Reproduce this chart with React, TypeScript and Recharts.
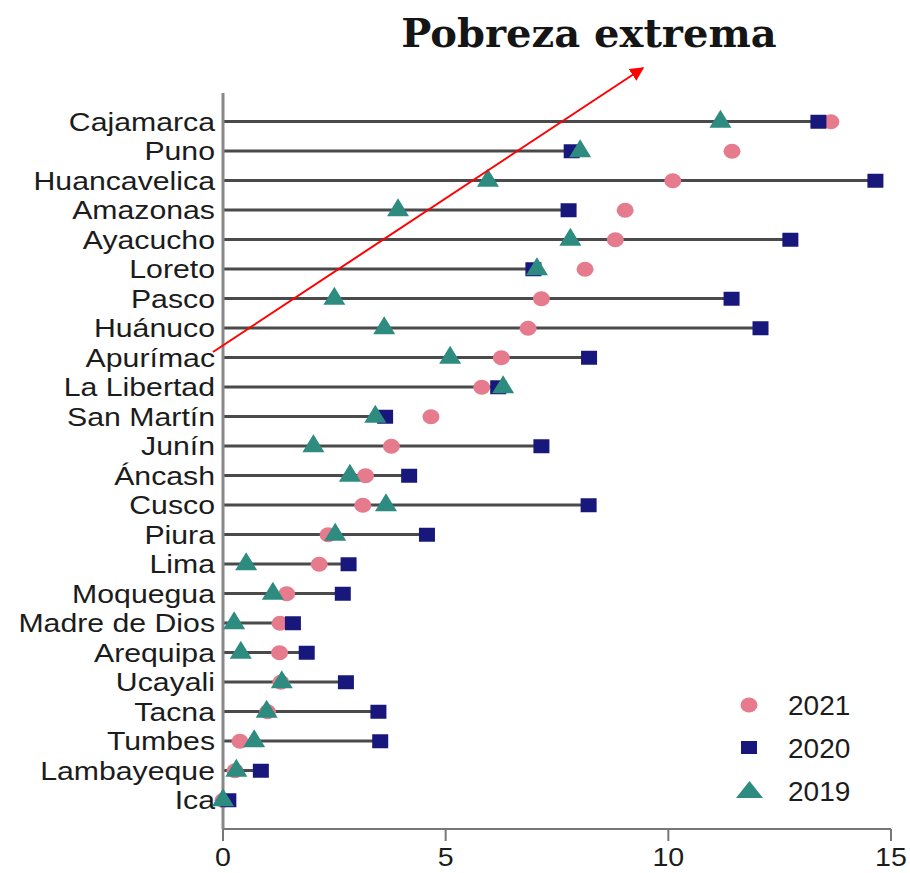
import { Bar, ComposedChart, Scatter, XAxis, YAxis } from "recharts";

const regions = [
  "Cajamarca", "Puno", "Huancavelica", "Amazonas", "Ayacucho", "Loreto", "Pasco", "Huánuco",
  "Apurímac", "La Libertad", "San Martín", "Junín", "Áncash", "Cusco", "Piura", "Lima",
  "Moquegua", "Madre de Dios", "Arequipa", "Ucayali", "Tacna", "Tumbes", "Lambayeque", "Ica",
];
const v2021 = [13.65, 11.43, 10.1, 9.03, 8.81, 8.13, 7.15, 6.85, 6.25, 5.81, 4.67, 3.78, 3.2, 3.14, 2.36, 2.16, 1.43, 1.28, 1.27, 1.3, 1.0, 0.38, 0.27, 0.0];
const v2020 = [13.37, 7.83, 14.65, 7.76, 12.74, 6.97, 11.42, 12.07, 8.22, 6.18, 3.64, 7.15, 4.18, 8.21, 4.58, 2.82, 2.69, 1.57, 1.88, 2.76, 3.49, 3.53, 0.85, 0.12];
const v2019 = [11.17, 8.02, 5.95, 3.93, 7.8, 7.05, 2.5, 3.62, 5.1, 6.29, 3.42, 2.03, 2.85, 3.66, 2.52, 0.52, 1.12, 0.25, 0.4, 1.32, 0.98, 0.7, 0.3, 0.0];
const xTicks = [0, 5, 10, 15];

const PINK = "#e57b8c";
const NAVY = "#18187c";
const TEAL = "#2d8b80";

const data = regions.map((region, i) => ({
  region,
  y2021: v2021[i],
  y2020: v2020[i],
  y2019: v2019[i],
  // the connecting line only spans the 2019/2020 values
  span: Math.max(v2020[i], v2019[i]),
}));

const Dot = (p: any) => <ellipse cx={p.cx} cy={p.cy} rx={8.5} ry={7.5} fill={PINK} />;
const Square = (p: any) => <rect x={p.cx - 8} y={p.cy - 7} width={16} height={14} fill={NAVY} />;
const Triangle = (p: any) => (
  <polygon points={`${p.cx - 11},${p.cy + 6} ${p.cx + 11},${p.cy + 6} ${p.cx},${p.cy - 12}`} fill={TEAL} />
);

const RegionTick = (p: any) => (
  <text
    transform={`translate(${p.x},${p.y}) scale(1.21,1)`}
    dy={9}
    textAnchor="end"
    fontFamily="'Liberation Sans', Arial, sans-serif"
    fontSize={25}
    fill="#1c1c1c"
  >
    {p.payload.value}
  </text>
);

const ValueTick = (p: any) => (
  <text
    transform={`translate(${p.x},${p.y}) scale(1.1,1)`}
    dy={23}
    textAnchor="middle"
    fontFamily="'Liberation Sans', Arial, sans-serif"
    fontSize={26}
    fill="#1c1c1c"
  >
    {p.payload.value}
  </text>
);

const legendItems = [
  { label: "2021", marker: "dot" },
  { label: "2020", marker: "square" },
  { label: "2019", marker: "triangle" },
];

export default function App() {
  return (
    <div style={{ position: "absolute", left: 0, top: 0, width: 910, height: 873, background: "#fff" }}>
      <ComposedChart
        width={910}
        height={873}
        data={data}
        layout="vertical"
        margin={{ top: 93, right: 19, bottom: 0, left: 0 }}
      >
        <XAxis
          type="number"
          domain={[0, 15]}
          ticks={xTicks}
          height={44}
          stroke="#777"
          strokeWidth={2}
          tickSize={12}
          tick={ValueTick}
        />
        <YAxis
          type="category"
          dataKey="region"
          width={223}
          padding={{ top: 14, bottom: 14 }}
          stroke="#888"
          strokeWidth={3}
          tickLine={false}
          tickSize={0}
          tickMargin={8}
          tick={RegionTick}
          interval={0}
        />
        <Bar dataKey="span" barSize={3} fill="#4a4a4a" isAnimationActive={false} />
        <Scatter dataKey="y2021" shape={Dot} isAnimationActive={false} />
        <Scatter dataKey="y2020" shape={Square} isAnimationActive={false} />
        <Scatter dataKey="y2019" shape={Triangle} isAnimationActive={false} />
      </ComposedChart>
      <svg width={910} height={873} style={{ position: "absolute", left: 0, top: 0, pointerEvents: "none" }}>
        <text
          x={589}
          y={47}
          textAnchor="middle"
          fontFamily="'DejaVu Serif', serif"
          fontWeight="bold"
          fontSize={40}
          fill="#151515"
        >
          Pobreza extrema
        </text>
        <defs>
          <marker id="head" viewBox="0 0 10 10" refX="9" refY="5" markerWidth="7" markerHeight="7" orient="auto">
            <path d="M0,0 L10,5 L0,10 z" fill="#ff0000" />
          </marker>
        </defs>
        <line x1={213} y1={352} x2={643} y2={68} stroke="#ff0000" strokeWidth={2} markerEnd="url(#head)" />
        {legendItems.map((item, i) => {
          const cy = 705 + i * 43;
          return (
            <g key={item.label}>
              {item.marker === "dot" && <ellipse cx={749} cy={cy} rx={8.5} ry={7.5} fill={PINK} />}
              {item.marker === "square" && <rect x={741} y={cy - 7} width={16} height={13} fill={NAVY} />}
              {item.marker === "triangle" && (
                <polygon points={`${736},${cy + 7} ${763},${cy + 7} ${749.5},${cy - 10}`} fill={TEAL} />
              )}
              <text x={788} y={cy + 10} fontFamily="'Liberation Sans', Arial, sans-serif" fontSize={28} fill="#1c1c1c">
                {item.label}
              </text>
            </g>
          );
        })}
      </svg>
    </div>
  );
}
